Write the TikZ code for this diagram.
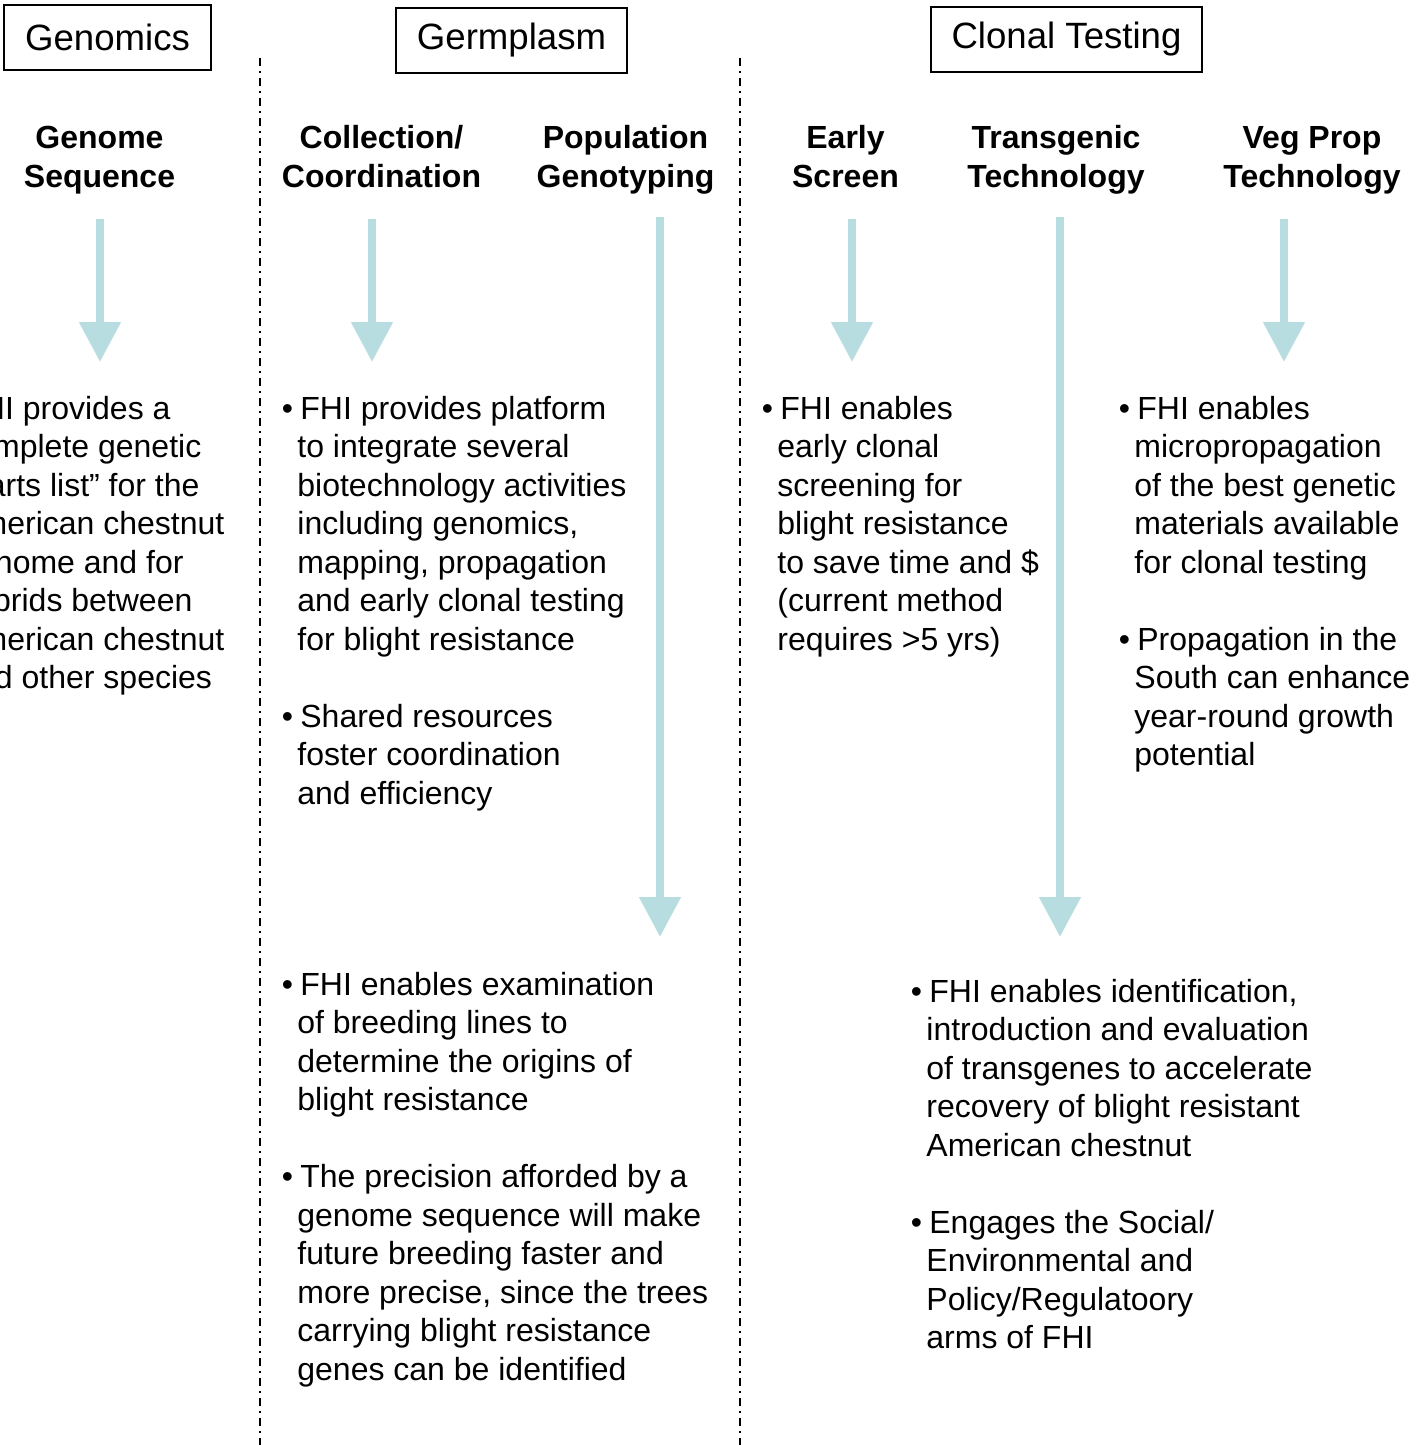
\documentclass[tikz,border=0pt]{standalone}
\usepackage{fontspec}
\setmainfont{Liberation Sans}
\usetikzlibrary{arrows.meta,positioning}
\definecolor{arrowBlue}{HTML}{B7DDE0}
\newcommand{\itemdot}{\hspace*{1.5pt}\llap{\textbullet\hspace{3.7pt}}}
\tikzset{
    title/.style={
        rectangle,
        draw=black,
        line width=1pt,
        inner xsep=10.5pt,
        minimum height=32.5pt,
        font=\fontsize{18.3}{22}\selectfont
    },
    header/.style={
        align=center,
        anchor=base,
        inner sep=0pt,
        font=\fontsize{16}{19.5}\selectfont\bfseries
    },
    bullets/.style={
        align=left,
        anchor=base west,
        inner sep=0pt,
        font=\fontsize{16}{19.25}\selectfont
    },
    flowarrow/.style={-{Triangle[length=20pt,width=20pt]},line width=4pt,draw=arrowBlue,fill=arrowBlue},
    divider/.style={line width=1pt,dash pattern=on 4pt off 2.5pt on 1pt off 2.5pt}
}

\begin{document}
\begin{tikzpicture}[x=0.5pt,y=-0.5pt]
    \useasboundingbox (0,0) rectangle (1425,1445);

    % column titles
    \node[title] (genomics) at (107.5,37.5) {Genomics};
    \node[title] (germplasm) at (511.5,40.5) {Germplasm};
    \node[title] (clonal) at (1066.5,39.5) {Clonal Testing};

    % dividers
    \draw[divider] (260,58) -- (260,1445);
    \draw[divider] (740,58) -- (740,1445);

    % sub headings (placed by last baseline)
    \node[header] (genseq) at (99.5,187) {Genome\\Sequence};
    \node[header] (collect) at (381.5,187) {Collection/\\Coordination};
    \node[header] (popgen) at (625.5,187) {Population\\Genotyping};
    \node[header] (early) at (845.5,187) {Early\\Screen};
    \node[header] (transg) at (1056,187) {Transgenic\\Technology};
    \node[header] (vegprop) at (1312,187) {Veg Prop\\Technology};

    % texts (placed by last baseline)
    \node[bullets] (gentext) at (-41,688.5)
        {\itemdot FHI provides a\\complete genetic\\“parts list” for the\\American chestnut\\genome and for\\hybrids between\\American chestnut\\and other species};
    \node[bullets] (colltext) at (297,804)
        {\itemdot FHI provides platform\\to integrate several\\biotechnology activities\\including genomics,\\mapping, propagation\\and early clonal testing\\for blight resistance\\[19.25pt]
         \itemdot Shared resources\\foster coordination\\and efficiency};
    \node[bullets] (poptext) at (297,1380)
        {\itemdot FHI enables examination\\of breeding lines to\\determine the origins of\\blight resistance\\[19.25pt]
         \itemdot The precision afforded by a\\genome sequence will make\\future breeding faster and\\more precise, since the trees\\carrying blight resistance\\genes can be identified};
    \node[bullets] (earlytext) at (777,650)
        {\itemdot FHI enables\\early clonal\\screening for\\blight resistance\\to save time and \$\\(current method\\requires >5 yrs)};
    \node[bullets] (vegtext) at (1134,765.5)
        {\itemdot FHI enables\\micropropagation\\of the best genetic\\materials available\\for clonal testing\\[19.25pt]
         \itemdot Propagation in the\\South can enhance\\year-round growth\\potential};
    \node[bullets] (transtext) at (926,1348.5)
        {\itemdot FHI enables identification,\\introduction and evaluation\\of transgenes to accelerate\\recovery of blight resistant\\American chestnut\\[19.25pt]
         \itemdot Engages the Social/\\Environmental and\\Policy/Regulatoory\\arms of FHI};

    % arrow ends
    \coordinate (genA) at (100,219);   \coordinate (genB) at (100,362);
    \coordinate (collA) at (372,219);  \coordinate (collB) at (372,362);
    \coordinate (popA) at (660,217);   \coordinate (popB) at (660,937);
    \coordinate (earlyA) at (852,219); \coordinate (earlyB) at (852,362);
    \coordinate (transA) at (1060,217);\coordinate (transB) at (1060,937);
    \coordinate (vegA) at (1284,219);  \coordinate (vegB) at (1284,362);

    \draw[flowarrow] (genA) -- (genB);
    \draw[flowarrow] (collA) -- (collB);
    \draw[flowarrow] (popA) -- (popB);
    \draw[flowarrow] (earlyA) -- (earlyB);
    \draw[flowarrow] (transA) -- (transB);
    \draw[flowarrow] (vegA) -- (vegB);
\end{tikzpicture}
\end{document}
